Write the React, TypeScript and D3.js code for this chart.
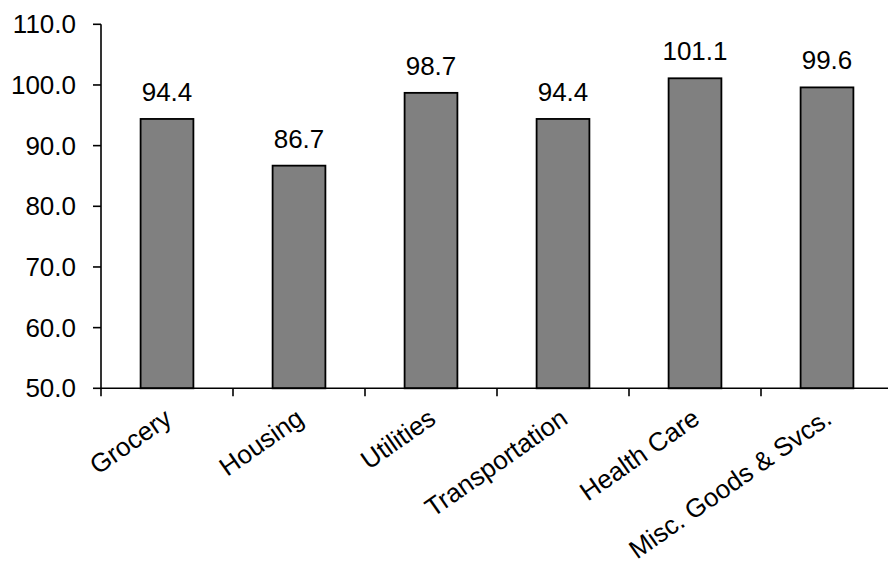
import React from 'react';
import { scaleBand, scaleLinear, select, range } from 'd3';

const categories = ['Grocery', 'Housing', 'Utilities', 'Transportation', 'Health Care', 'Misc. Goods & Svcs.'];
const values = [94.4, 86.7, 98.7, 94.4, 101.1, 99.6];
const yTicks = [50, 60, 70, 80, 90, 100, 110];

const dims = {
    width: 888,
    height: 565,
    left: 101,
    right: 893,
    top: 24.3,
    bottom: 388.3,
};

const font = 'Liberation Sans, Arial, sans-serif';

const App: React.FC = () => {
    const ref = React.useRef<SVGSVGElement>(null);

    React.useEffect(() => {
        const svg = select(ref.current);
        svg.selectAll('*').remove();

        const x = scaleBand<string>()
            .domain(categories)
            .range([dims.left, dims.right])
            .paddingInner(0.6)
            .paddingOuter(0.3);
        const y = scaleLinear().domain([50, 110]).range([dims.bottom, dims.top]);
        const step = x.step();

        // bars
        svg.append('g')
            .selectAll('rect').data(values).enter().append('rect')
            .attr('x', (d, i) => x(categories[i])!)
            .attr('y', d => y(d))
            .attr('width', x.bandwidth())
            .attr('height', d => dims.bottom - y(d))
            .attr('fill', '#808080')
            .attr('stroke', '#000')
            .attr('stroke-width', 1.8);

        // value labels
        svg.append('g')
            .selectAll('text').data(values).enter().append('text')
            .attr('x', (d, i) => x(categories[i])! + x.bandwidth() / 2)
            .attr('y', d => y(d) - 18)
            .attr('text-anchor', 'middle')
            .attr('font-family', font)
            .attr('font-size', 26)
            .text(d => d.toFixed(1));

        // y axis
        const ya = svg.append('g');
        ya.append('line')
            .attr('x1', dims.left).attr('x2', dims.left)
            .attr('y1', dims.top).attr('y2', dims.bottom)
            .attr('stroke', '#000').attr('stroke-width', 1.6);
        ya.selectAll('line.tick').data(yTicks).enter().append('line')
            .attr('class', 'tick')
            .attr('x1', dims.left - 8).attr('x2', dims.left)
            .attr('y1', d => y(d)).attr('y2', d => y(d))
            .attr('stroke', '#000').attr('stroke-width', 1.6);
        ya.selectAll('text').data(yTicks).enter().append('text')
            .attr('x', 76)
            .attr('y', d => y(d))
            .attr('dy', '0.35em')
            .attr('text-anchor', 'end')
            .attr('font-family', font)
            .attr('font-size', 26)
            .text(d => d.toFixed(1));

        // x axis
        const xa = svg.append('g');
        xa.append('line')
            .attr('x1', dims.left).attr('x2', dims.right)
            .attr('y1', dims.bottom).attr('y2', dims.bottom)
            .attr('stroke', '#000').attr('stroke-width', 1.6);
        xa.selectAll('line.tick').data(range(categories.length + 1)).enter().append('line')
            .attr('class', 'tick')
            .attr('x1', i => dims.left + i * step).attr('x2', i => dims.left + i * step)
            .attr('y1', dims.bottom).attr('y2', dims.bottom + 8)
            .attr('stroke', '#000').attr('stroke-width', 1.6);
        xa.selectAll('text').data(categories).enter().append('text')
            .attr('transform', d => `translate(${x(d)! + x.bandwidth() / 2 - 4}, ${dims.bottom + 19}) rotate(-35)`)
            .attr('dy', '0.7em')
            .attr('text-anchor', 'end')
            .attr('font-family', font)
            .attr('font-size', 26)
            .text(d => d);
    }, []);

    return (
        <div style={{ position: 'absolute', left: 0, top: 0 }}>
            <svg ref={ref} width={dims.width} height={dims.height} style={{ display: 'block', background: '#fff' }} />
        </div>
    );
};

export default App;
